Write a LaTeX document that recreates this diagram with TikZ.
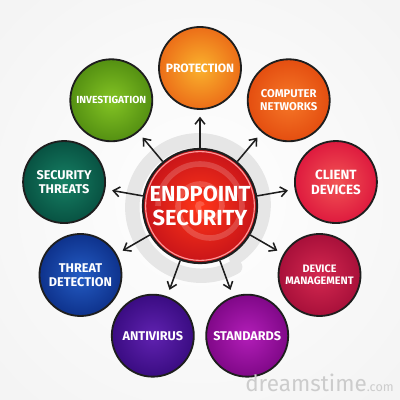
\documentclass[tikz,border=0pt]{standalone}
\usepackage{fontspec}
\setmainfont{Fira Sans}
\usetikzlibrary{arrows.meta}
\definecolor{outl}{HTML}{1E1E1E}
\definecolor{ringgray}{HTML}{E6E6E6}
\tikzset{
  sat/.style={circle, minimum size=2.05cm, inner sep=0pt, draw=outl, line width=1.3pt,
    text=white, align=center, font=\bfseries\fontsize{9}{10}\selectfont},
  arr/.style={draw=outl, line width=1.1pt, shorten >=0.17cm,
    -{Straight Barb[length=4.5pt,width=7pt,line width=1.1pt]}},
}
\begin{document}
\begin{tikzpicture}
\useasboundingbox (0,0) rectangle (10,10);
% background
\begin{scope}
\clip (0,0) rectangle (10,10);
\shade[inner color=white, outer color=gray!9] (-2,-2) rectangle (12,12);
\end{scope}
\coordinate (o) at (5,4.85);
% gray spiral ring behind
\draw[ringgray, line width=0.36cm, line cap=round]
  plot[domain=-55:300, samples=90, smooth]
  ({5+(1.56+0.2*(\x+55)/355)*cos(\x)}, {4.85+(1.56+0.2*(\x+55)/355)*sin(\x)});
% centre
\node[circle, minimum size=2.85cm, inner sep=0pt, draw=outl, line width=1.6pt,
  inner color=red!75!orange!90!white, outer color={rgb,255:red,200;green,20;blue,25}] (c) at (o) {};
\draw[white, opacity=0.18, line width=4pt]
  ([shift={(0.05,0)}]o) arc[start angle=0, end angle=180, radius=0.05]
  arc[start angle=180, end angle=360, radius=0.3]
  arc[start angle=0, end angle=180, radius=0.55]
  arc[start angle=180, end angle=360, radius=0.8]
  arc[start angle=0, end angle=180, radius=1.05];
\draw[red!40!white, line width=0.8pt] (o) circle[radius=1.36];
\node[text=white, align=center, font=\bfseries\fontsize{15.5}{17}\selectfont] (ct) at (o) {ENDPOINT\\SECURITY};
% satellites
\node[sat, inner color={rgb,255:red,250;green,178;blue,45}, outer color={rgb,255:red,236;green,110;blue,24},
  font=\bfseries\fontsize{8.6}{10}\selectfont] (s1) at ([shift={(90:3.45)}]o) {PROTECTION};
\node[sat, inner color={rgb,255:red,246;green,120;blue,40}, outer color={rgb,255:red,228;green,78;blue,16},
  font=\bfseries\fontsize{8}{8.8}\selectfont] (s2) at ([shift={(50:3.45)}]o) {COMPUTER\\NETWORKS};
\node[sat, inner color={rgb,255:red,242;green,84;blue,84}, outer color={rgb,255:red,222;green,26;blue,62},
  font=\bfseries\fontsize{9.5}{10.5}\selectfont] (s3) at ([shift={(10:3.45)}]o) {CLIENT\\DEVICES};
\node[sat, inner color={rgb,255:red,212;green,40;blue,80}, outer color={rgb,255:red,168;green,16;blue,58},
  font=\bfseries\fontsize{7.7}{8.7}\selectfont] (s4) at ([shift={(-30:3.45)}]o) {DEVICE\\MANAGEMENT};
\node[sat, inner color={rgb,255:red,178;green,30;blue,184}, outer color={rgb,255:red,128;green,8;blue,136}] (s5) at ([shift={(-70:3.45)}]o) {STANDARDS};
\node[sat, inner color={rgb,255:red,96;green,34;blue,176}, outer color={rgb,255:red,58;green,12;blue,130}] (s6) at ([shift={(-110:3.45)}]o) {ANTIVIRUS};
\node[sat, inner color={rgb,255:red,36;green,92;blue,196}, outer color={rgb,255:red,14;green,50;blue,140}] (s7) at ([shift={(-150:3.45)}]o) {THREAT\\DETECTION};
\node[sat, inner color={rgb,255:red,22;green,128;blue,100}, outer color={rgb,255:red,8;green,82;blue,66}] (s8) at ([shift={(170:3.45)}]o) {SECURITY\\THREATS};
\node[sat, inner color={rgb,255:red,132;green,196;blue,36}, outer color={rgb,255:red,84;green,144;blue,18},
  font=\bfseries\fontsize{7.3}{8.3}\selectfont] (s9) at ([shift={(130:3.45)}]o) {INVESTIGATION};
% arrows
\foreach \s in {s1,s2,s3,s4,s5,s6,s7,s8,s9}
  \draw[arr] (c) -- (\s);
% watermark
\node[text=gray!40, font=\fontsize{16}{16}\selectfont, anchor=south east, inner sep=0pt] (wm) at (9.85,0.2) {dreamstime{\fontsize{9}{9}\selectfont.com}};
\end{tikzpicture}
\end{document}
